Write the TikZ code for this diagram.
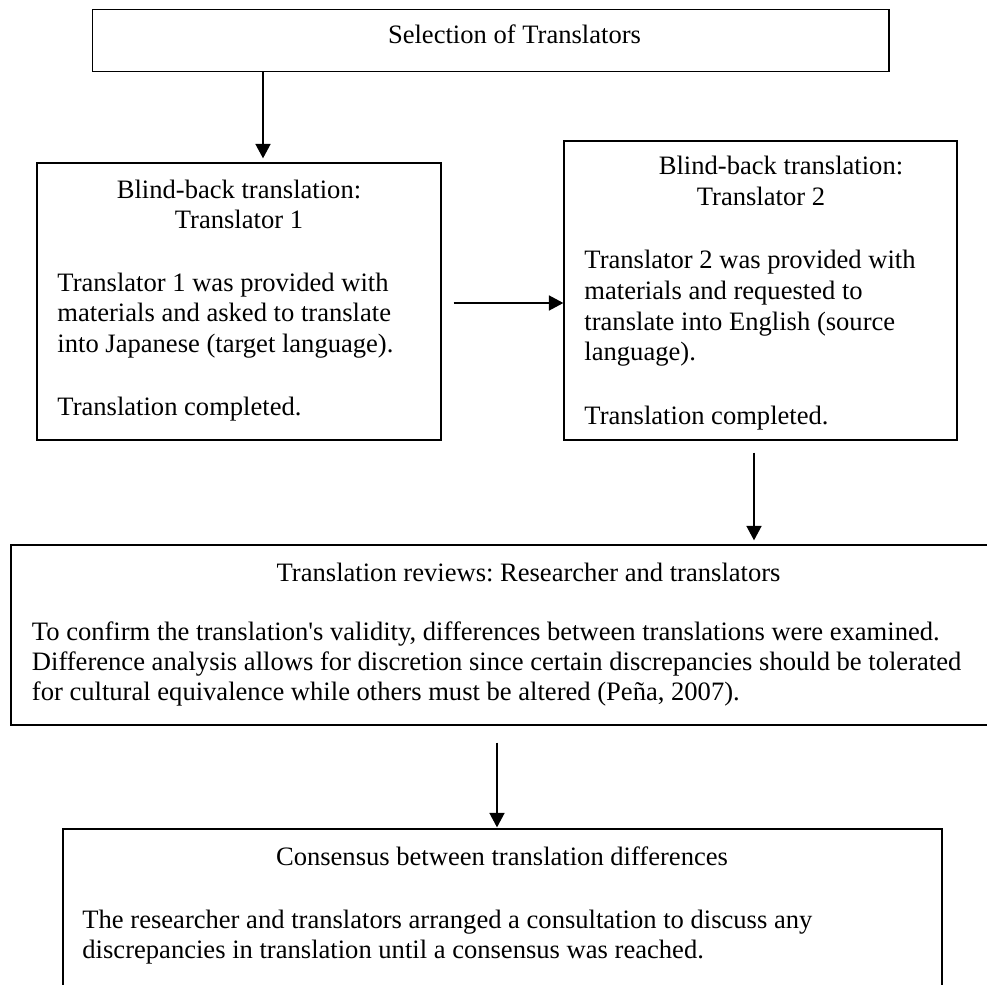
\documentclass[tikz,border=0pt]{standalone}
\usepackage{fontspec}
\setmainfont{Liberation Serif}[Ligatures=TeXOff]
\usetikzlibrary{fit,calc,arrows.meta}
\tikzset{
  box/.style={draw=black, line width=0.6pt, inner sep=0pt},
  txt/.style={inner sep=0pt, font=\fontsize{12pt}{13.5pt}\selectfont\frenchspacing},
  ctr/.style={txt, anchor=base},
  lft/.style={txt, anchor=base west},
  arr/.style={line width=0.6pt, -{Triangle[length=6.5pt,width=6.8pt]}}
}
\begin{document}
\begin{tikzpicture}[x=0.4515pt, y=-0.4515pt]
\useasboundingbox (0,0) rectangle (987,985);
\clip (0,0) rectangle (987,985);
% boxes
\node[box, fit={(92.5,9.5) (889,71.5)}] (top) {};
\node[box, fit={(37,163) (441,440)}] (b1) {};
\node[box, fit={(564,141) (957,440)}] (b2) {};
\node[box, fit={(11,545) (1000,725)}] (b3) {};
\node[box, fit={(63,829) (942,1000)}] (b4) {};
% texts
\node[ctr] (t0) at (514.5,44) {Selection of Translators};
\node[ctr] (t1a) at (239,199) {Blind-back translation:};
\node[ctr] (t1b) at (239,229) {Translator 1};
\node[lft] (t1c) at (57,292) {Translator 1 was provided with};
\node[lft] (t1d) at (57,322) {materials and asked to translate};
\node[lft] (t1e) at (57,352) {into Japanese (target language).};
\node[lft] (t1f) at (57,415) {Translation completed.};
\node[ctr] (t2a) at (781,175) {Blind-back translation:};
\node[ctr] (t2b) at (761,206) {Translator 2};
\node[lft] (t2c) at (584,269) {Translator 2 was provided with};
\node[lft] (t2d) at (584,300) {materials and requested to};
\node[lft] (t2e) at (584,330) {translate into English (source};
\node[lft] (t2f) at (584,361) {language).};
\node[lft] (t2g) at (584,424) {Translation completed.};
\node[ctr] (t3a) at (528.6,581) {Translation reviews: Researcher and translators};
\node[lft] (t3b) at (31.5,640) {To confirm the translation's validity, differences between translations were examined.};
\node[lft] (t3c) at (31.5,670) {Difference analysis allows for discretion since certain discrepancies should be tolerated};
\node[lft] (t3d) at (31.5,700) {for cultural equivalence while others must be altered (Peña, 2007).};
\node[ctr] (t4a) at (502,865) {Consensus between translation differences};
\node[lft] (t4b) at (82,928) {The researcher and translators arranged a consultation to discuss any};
\node[lft] (t4c) at (82,958) {discrepancies in translation until a consensus was reached.};
% connectors
\coordinate (xa) at (263,0);
\coordinate (xb) at (754,0);
\coordinate (xc) at (497,0);
\draw[arr] (top.south -| xa) -- ($(b1.north -| xa)+(0,-4)$);
\coordinate (h1) at ($(b1.east)+(12,1.5)$);
\draw[arr] (h1) -- (h1 -| b2.west);
\draw[arr] ($(b2.south -| xb)+(0,12)$) -- ($(b3.north -| xb)+(0,-4)$);
\draw[arr] ($(b3.south -| xc)+(0,17)$) -- ($(b4.north -| xc)+(0,-1)$);
\end{tikzpicture}
\end{document}
